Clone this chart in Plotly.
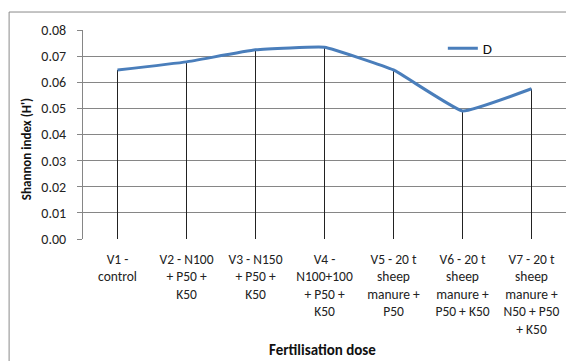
import plotly.graph_objects as go

categories = [
    "V1 -<br>control",
    "V2 - N100<br>+ P50 +<br>K50",
    "V3 - N150<br>+ P50 +<br>K50",
    "V4 -<br>N100+100<br>+ P50 +<br>K50",
    "V5 - 20 t<br>sheep<br>manure +<br>P50",
    "V6 - 20 t<br>sheep<br>manure +<br>P50 + K50",
    "V7 - 20 t<br>sheep<br>manure +<br>N50 + P50<br>+ K50",
]
series_name = "D"
values = [0.0647, 0.0678, 0.0724, 0.0734, 0.0647, 0.0490, 0.0575]
y_ticks = [0.00, 0.01, 0.02, 0.03, 0.04, 0.05, 0.06, 0.07, 0.08]

idx = list(range(len(categories)))

drop_x, drop_y = [], []
for i, v in zip(idx, values):
    drop_x += [i, i, None]
    drop_y += [0, v, None]

FONT = "Carlito, Lato, sans-serif"

fig = go.Figure()
fig.add_trace(go.Scatter(x=drop_x, y=drop_y, mode="lines",
                         line=dict(color="#222222", width=1),
                         showlegend=False, hoverinfo="skip"))
fig.add_trace(go.Scatter(x=idx, y=values, mode="lines", name=series_name,
                         line=dict(color="#4A7EBB", width=3, shape="spline", smoothing=0.3)))

fig.update_layout(
    width=566, height=361,
    margin=dict(l=83, r=0, t=30, b=122),
    paper_bgcolor="white", plot_bgcolor="white",
    font=dict(family=FONT, size=12, color="#222222"),
    showlegend=True,
    legend=dict(x=0.745, y=0.99, xanchor="left", yanchor="top",
                bgcolor="rgba(0,0,0,0)", font=dict(size=15, color="#111"),
                itemwidth=30, tracegroupgap=0),
    xaxis=dict(range=[-0.5, 6.5], tickvals=idx, ticktext=categories,
               showgrid=False, zeroline=False, showline=False, ticks="",
               ticklabelstandoff=10,
               tickfont=dict(size=13.5, color="#222"), fixedrange=True),
    yaxis=dict(range=[0, 0.08], tickvals=y_ticks, tickformat=".2f",
               showgrid=True, gridcolor="#868686", gridwidth=1,
               zeroline=False, showline=True, linecolor="#868686", linewidth=1,
               ticks="outside", ticklen=5, tickcolor="#868686",
               ticklabelstandoff=8,
               tickfont=dict(size=14, color="#222")),
    shapes=[dict(type="rect", xref="paper", yref="paper",
                 x0=-0.153, x1=1.02, y0=-0.8, y1=1.086,
                 line=dict(color="#8a8a8a", width=1), fillcolor="rgba(0,0,0,0)", layer="below")],
    annotations=[
        dict(text="<b>Shannon index (H')</b>", xref="paper", yref="paper",
             x=-0.118, y=0.43, xanchor="center", yanchor="middle",
             textangle=-90, showarrow=False,
             font=dict(size=13, color="#111")),
        dict(text="<b>Fertilisation dose</b>", xref="paper", yref="paper",
             x=0.496, y=-0.531, xanchor="center", yanchor="middle",
             showarrow=False, font=dict(size=15, color="#111")),
    ],
)

fig.write_html("out.html")
